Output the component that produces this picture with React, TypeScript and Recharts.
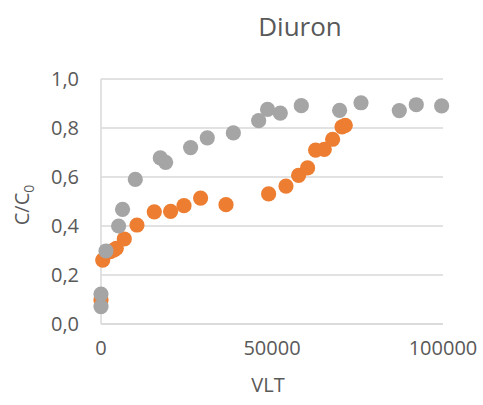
import { ScatterChart, Scatter, XAxis, YAxis, CartesianGrid } from 'recharts'

const xTicks = [0, 50000, 100000]
const yTicks = [0, 0.2, 0.4, 0.6, 0.8, 1.0]

// cinza
const serieCinza = [
  { x: 0, y: 0.071 }, { x: 0, y: 0.122 }, { x: 1460, y: 0.298 }, { x: 5150, y: 0.4 },
  { x: 6300, y: 0.468 }, { x: 10030, y: 0.59 }, { x: 17340, y: 0.678 }, { x: 18900, y: 0.66 },
  { x: 26200, y: 0.72 }, { x: 31080, y: 0.76 }, { x: 38700, y: 0.78 }, { x: 46100, y: 0.83 },
  { x: 48700, y: 0.876 }, { x: 52430, y: 0.861 }, { x: 58570, y: 0.891 }, { x: 69770, y: 0.872 },
  { x: 76020, y: 0.903 }, { x: 87220, y: 0.871 }, { x: 92190, y: 0.895 }, { x: 99600, y: 0.89 },
]

// laranja
const serieLaranja = [
  { x: 0, y: 0.098 }, { x: 500, y: 0.261 }, { x: 2720, y: 0.295 }, { x: 3700, y: 0.302 },
  { x: 4470, y: 0.309 }, { x: 6810, y: 0.347 }, { x: 10520, y: 0.404 }, { x: 15580, y: 0.458 },
  { x: 20350, y: 0.46 }, { x: 24270, y: 0.483 }, { x: 29120, y: 0.514 }, { x: 36550, y: 0.487 },
  { x: 49010, y: 0.531 }, { x: 54090, y: 0.563 }, { x: 57780, y: 0.607 }, { x: 60410, y: 0.637 },
  { x: 62750, y: 0.71 }, { x: 65290, y: 0.713 }, { x: 67720, y: 0.754 }, { x: 70470, y: 0.805 },
  { x: 71430, y: 0.811 },
]

const FONT = '"Open Sans", sans-serif'
const TXT = '#595959'
const tick = { fontSize: 20, fontFamily: FONT, fill: TXT }

const ponto = (cor: string) => (p: any) => <circle cx={p.cx} cy={p.cy} r={7.6} fill={cor} />

export default function App() {
  return (
    <div style={{ position: 'absolute', left: 0, top: 0, width: 483, height: 405, background: '#fff', fontFamily: FONT }}>
      <div style={{ position: 'absolute', left: 200, width: 200, top: 8, textAlign: 'center', fontSize: 26, color: TXT, lineHeight: '36px' }}>Diuron</div>
      <ScatterChart width={483} height={405} margin={{ top: 79, right: 40, bottom: 51, left: 40 }}>
        <CartesianGrid vertical={false} stroke="#D9D9D9" strokeWidth={1.5} />
        <XAxis type="number" dataKey="x" domain={[0, 100000]} ticks={xTicks} interval={0} height={30}
          tick={tick} tickLine={false} tickSize={0} tickMargin={17} axisLine={{ stroke: '#D9D9D9', strokeWidth: 1.5 }}
          label={{
            content: () => (
              <text x={268} y={392} textAnchor="middle" fontSize={20} fontFamily={FONT} fill={TXT}>VLT</text>
            ),
          }} />
        <YAxis type="number" dataKey="y" domain={[0, 1]} ticks={yTicks} interval={0} width={61}
          tickFormatter={(v: number) => v.toFixed(1).replace('.', ',')}
          tick={tick} tickLine={false} tickSize={0} tickMargin={22} axisLine={{ stroke: '#D9D9D9', strokeWidth: 1.5 }}
          label={{
            content: () => (
              <text transform="translate(29,205) rotate(-90)" textAnchor="middle" fontSize={20} fontFamily={FONT} fill={TXT}>
                C/C<tspan fontSize={14} dy={5}>0</tspan>
              </text>
            ),
          }} />
        <Scatter data={serieLaranja} fill="#ED7D31" shape={ponto('#ED7D31')} isAnimationActive={false} />
        <Scatter data={serieCinza} fill="#A5A5A5" shape={ponto('#A5A5A5')} isAnimationActive={false} />
      </ScatterChart>
    </div>
  )
}
